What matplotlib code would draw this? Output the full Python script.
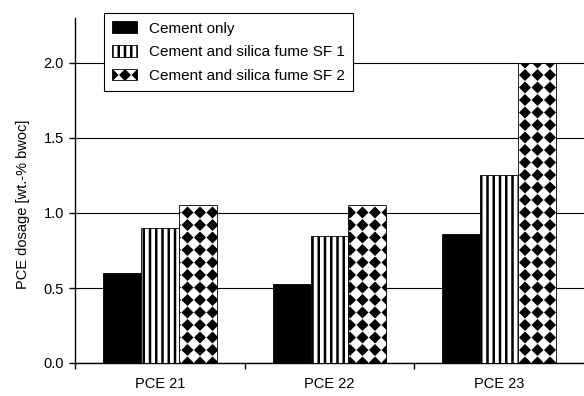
import numpy as np
import matplotlib
matplotlib.use("Agg")
import matplotlib.pyplot as plt
import matplotlib.hatch as mhatch
from matplotlib.path import Path

# ---------------- data ----------------
categories = ["PCE 21", "PCE 22", "PCE 23"]
series_names = ["Cement only", "Cement and silica fume SF 1", "Cement and silica fume SF 2"]
cement_only = [0.60, 0.53, 0.86]
silica_sf1 = [0.90, 0.85, 1.25]
silica_sf2 = [1.05, 1.05, 2.00]
yticks = [0.0, 0.5, 1.0, 1.5, 2.0]
ytick_labels = ["0.0", "0.5", "1.0", "1.5", "2.0"]
ylabel = "PCE dosage [wt.-% bwoc]"


# ------------- custom hatches -------------
class VStripe(mhatch.HatchPatternBase):
    def __init__(self, hatch, density):
        self.num_lines = hatch.count('|') * 8
        self.num_vertices = (self.num_lines + 1) * 2 if self.num_lines else 0

    def set_vertices_and_codes(self, vertices, codes):
        steps = np.linspace(0, 1, self.num_lines + 1)
        vertices[0::2, 0] = steps
        vertices[0::2, 1] = 0
        vertices[1::2, 0] = steps
        vertices[1::2, 1] = 1
        codes[0::2] = Path.MOVETO
        codes[1::2] = Path.LINETO


class DiamondHatch(mhatch.HatchPatternBase):
    def __init__(self, hatch, density):
        self.num_rows = hatch.count('*') * 8
        n = self.num_rows
        self.num_vertices = (n + 1) ** 2 * 5 if n else 0

    def set_vertices_and_codes(self, vertices, codes):
        n = self.num_rows
        off = 1.0 / n
        r = 0.34 * off
        shape = np.array([[0, 1], [-1, 0], [0, -1], [1, 0], [0, 1]], float) * r
        sc = np.array([Path.MOVETO, Path.LINETO, Path.LINETO, Path.LINETO,
                       Path.CLOSEPOLY], dtype=Path.code_type)
        vparts, cparts = [], []
        for i in range(n + 1):
            for j in range(n + 1):
                vparts.append(shape + [i * off, j * off])
                cparts.append(sc)
        vertices[:] = np.concatenate(vparts)
        codes[:] = np.concatenate(cparts)


new_types = []
for t in mhatch._hatch_types:
    if t is mhatch.VerticalHatch:
        new_types.append(VStripe)
    elif t is mhatch.Stars:
        new_types.append(DiamondHatch)
    else:
        new_types.append(t)
mhatch._hatch_types[:] = new_types

plt.rcParams['font.family'] = ['Liberation Sans', 'DejaVu Sans']
plt.rcParams['hatch.linewidth'] = 1.8
plt.rcParams['hatch.color'] = 'black'

fs = 10.5
fig = plt.figure(figsize=(5.84, 3.96), dpi=100)
W, H = 584, 396
ax = fig.add_axes([75 / W, (H - 363) / H, (584 - 75) / W, 345 / H])

x = np.arange(len(categories))
w = 0.223
series = [cement_only, silica_sf1, silica_sf2]
styles = [dict(color='black', hatch=None),
          dict(color='white', hatch='||'),
          dict(color='white', hatch='*')]
for k, (vals, st, name) in enumerate(zip(series, styles, series_names)):
    ax.bar(x + (k - 1) * w, vals, width=w, facecolor=st['color'],
           edgecolor='black', linewidth=0.6, hatch=st['hatch'], label=name,
           zorder=3)

ax.set_xlim(-0.5, 2.5)
ax.set_ylim(0, 2.3)
ax.set_yticks(yticks)
ax.set_yticklabels(ytick_labels, fontsize=fs)
ax.set_xticks(x)
ax.set_xticklabels(categories, fontsize=fs)
ax.set_xticks([-0.5, 0.5, 1.5], minor=True)
ax.tick_params(axis='x', which='major', length=0, pad=10)
ax.tick_params(axis='x', which='minor', length=4, width=1, direction='out', color='black')
ax.tick_params(axis='y', length=4, width=1, direction='out', pad=4, color='black')
ax.grid(axis='y', color='black', linewidth=0.8, zorder=0)
ax.set_axisbelow(True)
for s in ['top', 'right']:
    ax.spines[s].set_visible(False)
for s in ['left', 'bottom']:
    ax.spines[s].set_color('black')
    ax.spines[s].set_linewidth(1.0)

ax.set_ylabel(ylabel, fontsize=fs)
ax.yaxis.set_label_coords((30 - 75) / 509, (363 - 204) / 345)

leg = fig.legend(loc='upper left', bbox_to_anchor=(104 / W, 1 - 13 / H),
                 bbox_transform=fig.transFigure, borderaxespad=0,
                 fontsize=11, frameon=True, fancybox=False, framealpha=1,
                 edgecolor='black', handlelength=1.6, handleheight=0.8,
                 handletextpad=0.8, labelspacing=0.62, borderpad=0.55)
leg.get_frame().set_linewidth(0.8)

fig.savefig("out.png", dpi=100)
